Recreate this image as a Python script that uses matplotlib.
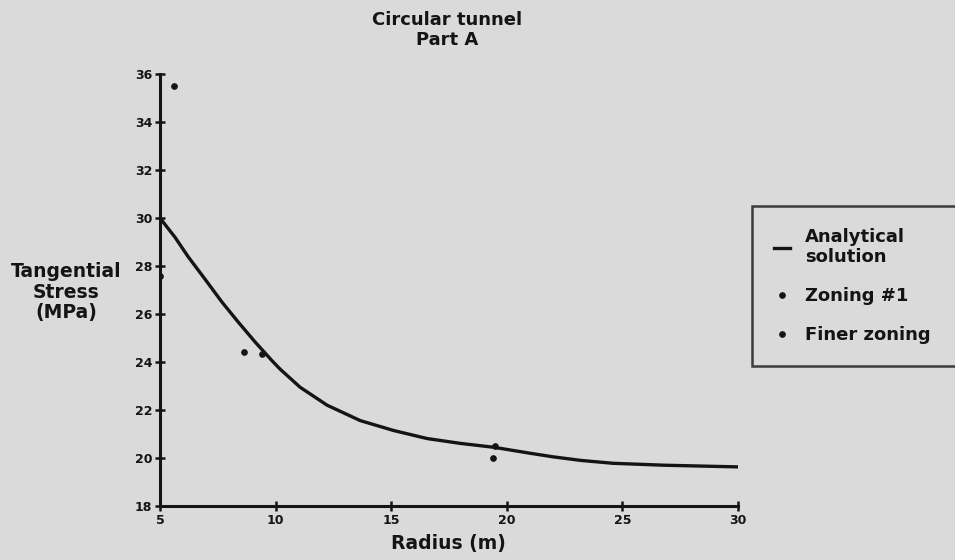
import numpy as np
import matplotlib.pyplot as plt

plt.rcParams['font.family'] = ['DejaVu Sans']
plt.rcParams['font.weight'] = 'bold'

## analytical solution
r_an = [5.0, 5.65, 6.21, 6.95, 7.68, 8.38, 9.11, 9.85, 10.2, 11.06, 12.23,
        13.66, 15.09, 16.56, 17.99, 19.42, 21.0, 22.0, 23.2, 24.6, 26.8, 30.0]
s_an = [30.0, 29.2, 28.4, 27.45, 26.5, 25.67, 24.84, 24.05, 23.7, 22.95, 22.2,
        21.56, 21.15, 20.81, 20.61, 20.45, 20.2, 20.05, 19.9, 19.78, 19.7, 19.63]

## numerical results
r_z1 = [5.0, 8.64, 19.4]
s_z1 = [27.6, 24.42, 20.0]
r_fine = [5.6, 9.42, 19.5]
s_fine = [35.5, 24.34, 20.5]

xticks = [5, 10, 15, 20, 25, 30]
yticks = [18, 20, 22, 24, 26, 28, 30, 32, 34, 36]

bg = '#dadada'
ink = '#141414'

fig = plt.figure(figsize=(9.55, 5.6), dpi=100, facecolor=bg)
ax = fig.add_axes([0.1675, 0.0964, 0.6053, 0.7714], facecolor=bg)

ax.plot(r_an, s_an, '-', color=ink, lw=2.4, solid_joinstyle='round',
        label='Analytical\nsolution')
ax.plot(r_z1, s_z1, 'o', color=ink, ms=3.8, ls='none', label='Zoning #1')
ax.plot(r_fine, s_fine, 'o', color=ink, ms=3.8, ls='none', label='Finer zoning')

ax.set_xlim(5, 30)
ax.set_ylim(18, 36)
ax.set_xticks(xticks)
ax.set_yticks(yticks)
for s in ['top', 'right']:
    ax.spines[s].set_visible(False)
for s in ['left', 'bottom']:
    ax.spines[s].set_linewidth(2.2)
    ax.spines[s].set_color(ink)
ax.tick_params(direction='inout', length=7, width=1.8, colors=ink,
               labelsize=9, pad=2)
for lab in ax.get_xticklabels() + ax.get_yticklabels():
    lab.set_fontweight('bold')

fig.text(447/955, 1 - 30/560, 'Circular tunnel\nPart A', ha='center', va='center',
         fontsize=13, fontweight='bold', color=ink, linespacing=1.1)
fig.text(66/955, 1 - 292/560, 'Tangential\nStress\n(MPa)', ha='center', va='center',
         fontsize=13.5, fontweight='bold', color=ink, linespacing=1.1)
fig.text(448/955, 1 - 543/560, 'Radius (m)', ha='center', va='center',
         fontsize=13.5, fontweight='bold', color=ink)

leg = fig.legend(loc='upper left', bbox_to_anchor=(752/955, 1 - 206/560, 0.25, 0.0),
                 mode='expand', frameon=True, fancybox=False, fontsize=13,
                 handlelength=0.9, handletextpad=0.85, labelspacing=1.15,
                 borderpad=1.2, borderaxespad=0)
leg.get_frame().set_edgecolor(ink)
leg.get_frame().set_linewidth(1.8)
leg.get_frame().set_facecolor(bg)
for t in leg.get_texts():
    t.set_color(ink)

fig.savefig('out.png', dpi=100, facecolor=bg)
